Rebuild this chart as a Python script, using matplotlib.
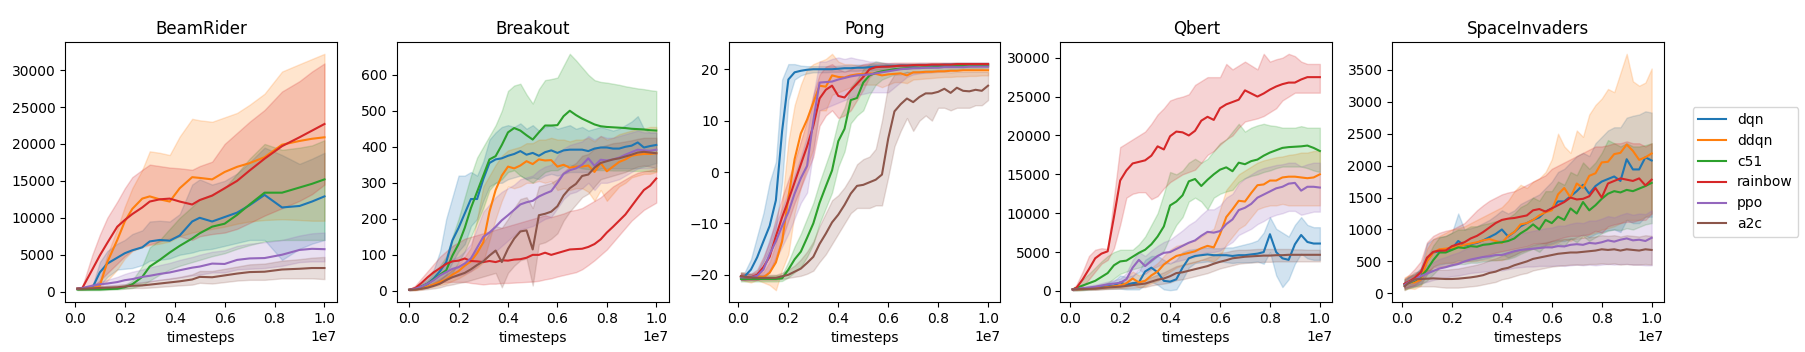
import numpy as np
import matplotlib
matplotlib.use("Agg")
import matplotlib.pyplot as plt

# ---------------- data ----------------
ALGOS = ["dqn", "ddqn", "c51", "rainbow", "ppo", "a2c"]
GAMES = ["BeamRider", "Breakout", "Pong", "Qbert", "SpaceInvaders"]

# x positions in units of 1e7 timesteps
BR_X = [0.01, 0.03, 0.07, 0.10, 0.13, 0.17, 0.20, 0.23, 0.27, 0.30, 0.34, 0.38,
        0.42, 0.47, 0.50, 0.55, 0.60, 0.65, 0.70, 0.76, 0.83, 0.90, 0.95, 1.00]
GRID_X = [0.01, 0.025, 0.05, 0.075, 0.1, 0.125, 0.15, 0.175, 0.2, 0.225, 0.25, 0.275,
          0.3, 0.325, 0.35, 0.375, 0.4, 0.425, 0.45, 0.475, 0.5, 0.525, 0.55, 0.575,
          0.6, 0.625, 0.65, 0.675, 0.7, 0.725, 0.75, 0.775, 0.8, 0.825, 0.85, 0.875,
          0.9, 0.925, 0.95, 0.975, 1.0]
BO_X = [0.0] + GRID_X[1:]

# ---- BeamRider (thousands) ----
BR_DQN = [0.4,0.45,0.5,2.6,3.8,4.6,5.2,5.6,6.0,6.8,7.0,6.9,7.6,9.5,10.0,9.5,10.1,10.7,11.7,13.1,11.4,11.6,12.2,12.9]
BR_DQN_HI = [0.5,0.6,0.7,4.0,5.5,6.5,7.0,7.8,8.3,9.5,9.6,9.5,10.5,14.5,15.2,14.5,15.0,16.0,17.5,19.5,18.5,17.3,18.0,18.8]
BR_DQN_LO = [0.3,0.3,0.4,0.8,2.0,3.0,3.1,3.2,3.6,4.2,4.3,4.5,5.0,5.3,5.6,5.8,6.2,6.6,7.0,7.0,4.3,5.8,6.5,7.0]
BR_DDQN = [0.4,0.45,0.5,0.8,4.0,7.0,9.5,11.2,12.6,12.9,12.5,12.2,14.0,15.5,15.4,15.2,16.2,16.9,17.4,18.2,19.9,20.4,20.7,20.9]
BR_DDQN_HI = [0.5,0.5,0.6,1.5,5.0,8.5,11.5,14.0,16.5,19.0,18.8,18.5,21.0,23.4,23.2,23.0,23.6,24.2,25.3,26.8,29.8,30.8,31.5,32.2]
BR_DDQN_LO = [0.3,0.3,0.4,0.5,1.5,3.0,4.5,5.5,6.0,6.3,6.5,6.8,7.5,8.0,8.2,8.5,8.8,9.2,9.5,9.7,9.8,9.7,9.6,9.6]
BR_C51 = [0.3,0.3,0.3,0.3,0.35,0.4,0.6,1.0,2.0,3.4,4.3,5.3,6.2,7.2,7.9,8.8,9.2,10.4,11.8,13.4,13.4,14.1,14.6,15.2]
BR_C51_HI = [0.4,0.4,0.4,0.4,0.5,0.6,0.9,1.5,3.5,6.0,7.0,8.5,10.0,11.5,12.5,13.2,14.0,16.0,18.0,20.0,19.2,19.5,19.8,20.5]
BR_C51_LO = [0.2,0.2,0.2,0.2,0.25,0.3,0.4,0.5,0.9,1.5,2.3,3.0,3.5,4.0,4.3,4.8,5.2,5.8,6.3,6.8,7.0,7.0,7.0,7.0]
BR_RAINBOW = [0.4,0.5,3.0,4.9,6.6,8.8,9.7,10.5,11.4,12.2,12.5,12.6,12.2,11.8,12.4,13.0,14.0,15.0,16.4,18.0,19.7,20.9,21.8,22.7]
BR_RAINBOW_HI = [0.5,0.7,5.0,7.7,10.0,12.2,14.0,15.5,16.5,17.2,17.0,16.8,16.7,16.5,17.0,17.6,20.0,21.5,23.0,24.6,27.1,28.5,29.8,30.9]
BR_RAINBOW_LO = [0.3,0.3,0.5,1.5,2.5,3.8,4.8,5.6,6.2,6.4,6.8,7.2,7.5,7.0,7.5,7.8,8.0,8.5,9.3,10.3,11.3,12.3,13.2,14.5]
BR_PPO = [0.4,0.5,0.8,1.0,1.1,1.3,1.55,1.7,2.0,2.15,2.4,2.6,2.9,3.25,3.4,3.8,3.75,4.3,4.5,4.55,5.0,5.65,5.8,5.75]
BR_PPO_HI = [0.5,0.6,1.0,1.3,1.6,2.0,2.4,2.7,3.0,3.3,3.6,3.9,4.3,4.7,5.0,5.4,5.6,6.2,6.5,6.7,7.0,7.6,7.9,8.0]
BR_PPO_LO = [0.3,0.4,0.6,0.7,0.8,0.9,1.0,1.1,1.3,1.4,1.6,1.7,1.9,2.2,2.3,2.6,2.6,3.0,3.1,3.2,3.5,4.0,4.1,4.1]
BR_A2C = [0.4,0.4,0.45,0.5,0.55,0.6,0.7,0.8,0.85,0.95,1.1,1.25,1.4,1.65,2.0,1.95,2.2,2.45,2.65,2.7,3.0,3.1,3.2,3.2]
BR_A2C_HI = [0.5,0.5,0.6,0.7,0.8,0.9,1.0,1.15,1.25,1.4,1.6,1.8,2.0,2.35,2.8,2.8,3.1,3.4,3.7,3.8,4.2,4.4,4.6,4.7]
BR_A2C_LO = [0.3,0.3,0.3,0.35,0.35,0.4,0.45,0.5,0.5,0.55,0.65,0.75,0.85,0.95,1.2,1.1,1.3,1.5,1.6,1.6,1.8,1.8,1.8,1.7]

# ---- Breakout ----
BO_DQN = [3,5,12,20,35,55,80,140,175,215,255,255,310,355,365,368,375,380,388,378,383,375,385,390,383,390,392,392,392,388,395,398,398,395,395,400,403,412,398,402,405]
BO_DQN_HI = [4,8,20,35,60,110,200,260,320,320,330,320,360,420,440,455,460,455,465,450,460,445,455,460,450,455,460,450,455,445,450,455,450,445,450,460,470,485,450,440,440]
BO_DQN_LO = [2,3,6,10,18,30,45,80,110,130,180,200,250,290,300,300,310,315,320,310,315,310,320,325,320,325,330,330,330,330,335,340,340,340,340,340,340,340,345,350,355]
BO_DDQN = [3,4,7,12,18,25,32,45,55,70,82,105,135,220,280,320,345,340,348,360,352,365,362,363,345,350,342,345,345,348,330,355,332,345,358,365,375,378,380,380,382]
BO_DDQN_HI = [4,6,10,16,25,35,45,60,75,95,120,200,290,320,350,375,390,395,400,410,410,420,420,425,420,420,415,420,420,425,415,430,420,425,435,440,445,450,450,455,455]
BO_DDQN_LO = [2,2,4,8,12,16,20,28,35,45,55,65,80,140,200,250,290,285,290,300,300,305,300,305,280,285,280,285,285,275,250,280,250,270,290,300,315,320,325,325,330]
BO_C51 = [3,6,12,20,32,45,57,98,130,175,230,275,320,365,374,405,440,452,445,432,420,440,459,459,460,485,500,488,478,470,462,457,455,454,453,452,450,449,448,446,445]
BO_C51_HI = [4,8,18,30,50,70,95,150,200,260,320,370,400,430,460,500,555,570,575,545,520,560,585,588,592,625,658,640,620,600,585,580,578,575,572,568,565,562,560,557,555]
BO_C51_LO = [2,4,8,12,18,25,30,50,80,110,150,190,230,280,300,310,330,335,320,310,300,315,330,335,335,345,350,345,340,338,336,335,335,334,334,334,333,333,333,332,332]
BO_RAINBOW = [3,8,22,38,52,63,75,82,84,90,83,82,80,83,80,85,84,87,88,92,100,100,106,100,105,110,115,116,117,122,130,143,162,178,195,212,235,258,280,292,312]
BO_RAINBOW_HI = [4,15,35,55,75,95,110,125,135,145,150,155,160,165,170,175,180,185,190,195,200,205,210,205,210,215,222,225,230,240,250,260,275,290,300,310,320,328,332,335,340]
BO_RAINBOW_LO = [2,3,8,15,20,22,25,25,25,25,22,20,18,20,20,22,22,23,24,25,26,28,32,35,40,44,48,52,60,72,85,100,115,135,155,175,195,210,225,235,245]
BO_PPO = [3,6,12,20,30,43,52,61,66,76,90,120,150,162,178,196,210,225,240,246,250,262,270,277,300,325,335,340,350,368,347,364,362,365,370,378,385,392,390,389,392]
BO_PPO_HI = [4,8,16,28,42,60,75,88,95,110,130,175,220,240,260,275,285,295,310,315,320,335,345,350,375,395,405,410,415,430,420,430,425,425,430,435,440,445,440,440,440]
BO_PPO_LO = [2,4,8,12,18,26,32,38,42,48,55,70,90,100,110,125,140,155,170,175,180,190,200,205,230,255,270,275,285,300,280,300,300,305,310,320,330,340,340,340,345]
BO_A2C = [3,4,6,9,14,20,30,38,44,50,60,72,82,98,112,80,117,145,165,168,115,210,214,220,235,265,285,297,319,323,342,355,360,365,368,373,378,384,386,384,382]
BO_A2C_HI = [4,6,9,14,22,32,45,58,68,78,95,115,135,160,180,175,200,230,255,260,230,290,295,300,310,330,345,355,375,380,395,400,405,410,412,415,418,422,425,425,425]
BO_A2C_LO = [2,2,3,5,7,10,15,18,22,25,30,35,40,45,50,10,50,70,85,90,15,130,135,145,160,195,220,240,260,270,290,310,315,320,325,330,338,345,348,345,340]

# ---- Pong ----
PO_DQN = [-20.3,-20.3,-19.0,-16.6,-13.5,-10.5,-5.5,8.0,18.0,19.4,19.7,19.9,20.0,20.0,20.0,20.0,20.1,20.2,20.2,20.3,20.3,20.4,20.5,20.5,20.6,20.6,20.7,20.7,20.7,20.8,20.8,20.8,20.8,20.9,20.9,20.9,20.9,21.0,21.0,21.0,21.0]
PO_DQN_HI = [-19.5,-19.5,-17.0,-12.5,-8.0,-2.0,2.0,18.0,21.0,21.0,20.7,20.6,20.6,20.6,20.6,20.6,20.7,20.8,20.8,20.9,20.9,21.0,21.0,21.0,21.1,21.1,21.1,21.1,21.1,21.2,21.2,21.2,21.2,21.2,21.2,21.3,21.3,21.3,21.3,21.3,21.3]
PO_DQN_LO = [-21.0,-21.0,-20.5,-19.5,-17.5,-15.0,-11.0,-2.0,14.0,18.0,18.8,19.2,19.4,19.4,19.4,19.5,19.5,19.6,19.7,19.7,19.8,19.8,19.9,20.0,20.0,20.1,20.2,20.2,20.3,20.3,20.4,20.4,20.4,20.5,20.5,20.5,20.6,20.6,20.6,20.7,20.7]
PO_DDQN = [-20.3,-20.4,-20.6,-20.3,-20.5,-19.6,-17.6,-13.5,-5.0,2.5,7.5,10.2,13.5,16.8,16.6,18.8,18.5,18.4,18.8,19.0,19.1,19.2,19.1,18.8,19.0,19.1,19.2,18.8,19.4,19.4,19.5,19.5,19.6,19.6,19.7,19.7,19.8,19.8,19.8,19.8,19.8]
PO_DDQN_HI = [-19.5,-19.6,-19.8,-19.5,-19.5,-17.5,-14.0,-6.0,6.0,13.0,17.0,20.0,21.0,21.5,22.0,23.0,21.5,21.0,21.0,20.8,20.8,20.8,20.7,20.5,20.6,20.6,20.6,20.4,20.5,20.5,20.5,20.5,20.5,20.5,20.5,20.5,20.4,20.4,20.4,20.4,20.4]
PO_DDQN_LO = [-21.0,-21.2,-21.5,-21.0,-21.5,-22.0,-23.0,-19.0,-16.0,-8.0,-3.0,1.0,4.5,12.0,12.0,15.0,15.5,16.0,16.5,17.0,17.0,17.0,17.0,16.5,17.0,17.5,17.5,17.3,18.0,18.1,18.2,18.3,18.4,18.5,18.5,18.6,18.6,18.7,18.7,18.8,18.8]
PO_C51 = [-20.8,-20.8,-20.8,-20.8,-20.8,-20.8,-20.8,-20.7,-19.0,-17.0,-15.5,-12.8,-10.0,-6.0,-2.8,0.3,6.0,8.4,14.0,14.4,17.4,18.8,19.3,19.6,19.8,20.0,20.1,20.2,20.3,20.3,20.4,20.4,20.5,20.5,20.5,20.6,20.6,20.6,20.7,20.7,20.7]
PO_C51_HI = [-20.2,-20.2,-20.2,-20.2,-20.2,-20.2,-20.1,-20.0,-17.5,-14.5,-12.0,-9.0,-6.0,-2.0,1.5,5.0,10.0,12.5,16.5,18.0,20.0,21.0,21.5,21.3,21.0,21.0,21.0,21.0,21.0,21.0,21.0,21.0,21.0,21.0,21.0,21.0,21.0,21.0,21.0,21.0,21.0]
PO_C51_LO = [-21.3,-21.3,-21.3,-21.3,-21.3,-21.3,-21.3,-21.2,-20.5,-19.5,-18.5,-16.5,-14.0,-10.0,-7.0,-4.0,1.0,4.0,9.5,11.0,12.0,15.0,17.0,18.0,18.5,19.0,19.2,19.4,19.5,19.6,19.7,19.8,19.9,19.9,20.0,20.0,20.1,20.1,20.2,20.2,20.3]
PO_RAINBOW = [-20.3,-20.5,-20.5,-20.0,-18.5,-16.5,-12.5,-8.8,-5.5,-2.0,1.5,5.0,9.0,14.3,16.0,16.8,14.8,14.5,15.9,17.2,18.5,20.0,20.4,20.5,20.5,20.6,20.7,20.7,20.8,20.8,20.8,20.9,20.9,20.9,20.9,21.0,21.0,21.0,21.0,21.0,21.0]
PO_RAINBOW_HI = [-19.7,-19.8,-19.8,-19.0,-16.5,-13.5,-9.0,-5.0,-1.5,2.0,6.0,10.0,15.0,19.0,20.5,21.0,20.0,19.5,20.0,20.5,21.0,21.2,21.2,21.2,21.2,21.3,21.3,21.3,21.3,21.3,21.3,21.3,21.3,21.3,21.3,21.3,21.3,21.3,21.3,21.3,21.3]
PO_RAINBOW_LO = [-21.0,-21.0,-21.0,-21.0,-20.5,-19.5,-16.5,-13.0,-9.5,-6.0,-3.0,0.0,3.0,9.0,11.0,12.0,10.5,11.0,12.0,14.0,16.0,18.5,19.5,19.8,19.9,20.0,20.1,20.1,20.2,20.3,20.3,20.4,20.4,20.5,20.5,20.5,20.6,20.6,20.6,20.7,20.7]
PO_PPO = [-20.5,-20.5,-20.5,-20.2,-19.0,-16.0,-13.5,-10.5,-7.8,-4.2,-1.2,1.2,10.0,17.4,17.5,17.6,18.0,18.3,18.6,18.8,18.9,19.0,19.2,19.4,19.6,19.8,20.0,20.1,20.2,20.2,20.3,20.3,20.3,20.4,20.4,20.4,20.4,20.5,20.5,20.5,20.5]
PO_PPO_HI = [-19.8,-19.8,-19.8,-19.5,-17.0,-13.0,-10.0,-7.0,-4.0,-0.5,3.0,7.0,15.0,21.5,21.5,22.0,22.3,22.0,22.3,22.0,21.8,21.5,21.5,21.3,21.2,21.1,21.1,21.0,21.0,21.0,21.0,21.0,21.0,21.0,21.0,21.0,21.0,21.0,21.0,21.0,21.0]
PO_PPO_LO = [-21.0,-21.0,-21.0,-21.0,-20.5,-19.0,-17.0,-14.5,-12.0,-9.0,-6.0,-4.0,4.0,12.0,12.5,13.0,13.5,14.0,14.5,15.0,15.2,15.5,15.5,15.5,15.5,16.5,17.5,18.5,19.0,19.2,19.4,19.5,19.6,19.7,19.8,19.8,19.9,19.9,20.0,20.0,20.0]
PO_A2C = [-20.3,-20.4,-20.5,-20.6,-20.6,-20.6,-20.6,-20.3,-20.0,-19.4,-18.8,-17.7,-16.5,-14.0,-12.0,-9.8,-8.3,-6.4,-4.2,-2.7,-2.5,-2.0,-1.5,-0.5,6.5,11.8,13.2,14.3,13.6,14.6,15.3,15.3,15.6,16.2,15.4,16.4,15.8,15.7,16.0,15.8,16.8]
PO_A2C_HI = [-19.7,-19.8,-19.9,-20.0,-20.0,-20.0,-20.0,-19.6,-19.0,-18.2,-17.0,-15.5,-13.5,-10.5,-8.0,-5.5,-4.5,-3.0,-1.0,1.5,2.5,3.0,4.5,10.0,17.0,19.0,19.0,19.5,19.3,19.5,19.3,19.4,19.5,19.5,19.4,19.5,19.5,19.5,19.5,19.5,19.5]
PO_A2C_LO = [-20.9,-21.0,-21.0,-21.0,-21.0,-21.0,-21.0,-20.8,-20.6,-20.4,-20.2,-19.8,-19.2,-17.5,-16.0,-14.0,-12.0,-10.0,-8.0,-7.0,-7.0,-7.0,-6.5,-6.5,-1.0,5.0,8.0,10.5,8.0,10.0,11.0,10.0,12.5,12.5,12.0,12.5,12.5,12.5,13.0,13.0,14.0]

# ---- Qbert (thousands) ----
QB_DQN = [0.2,0.2,0.3,0.35,0.4,0.5,0.6,0.7,1.1,0.8,1.0,1.1,2.5,3.0,2.4,1.3,1.2,1.5,3.0,4.2,4.5,4.6,4.7,4.6,4.6,4.6,4.5,4.6,4.6,4.7,4.8,5.0,7.3,5.0,4.2,4.0,6.0,7.2,6.3,6.1,6.1]
QB_DQN_HI = [0.3,0.3,0.4,0.5,0.6,0.8,1.0,1.3,2.0,1.8,2.0,2.5,4.0,4.5,4.5,4.0,3.5,4.0,5.0,5.3,5.4,5.5,5.6,5.5,5.5,5.6,5.6,5.8,6.0,6.2,6.5,7.5,9.5,8.0,7.5,7.0,8.5,9.5,8.5,8.2,8.2]
QB_DQN_LO = [0.1,0.1,0.15,0.2,0.2,0.25,0.3,0.3,0.3,0.2,0.2,0.2,0.8,1.2,0.8,0.2,0.1,0.2,1.5,3.0,3.6,3.7,3.8,3.7,3.8,3.7,3.6,3.7,3.7,3.7,3.8,3.5,5.0,2.0,0.5,1.5,3.5,4.8,4.2,4.0,4.0]
QB_DDQN = [0.2,0.2,0.25,0.3,0.35,0.4,0.5,0.6,0.7,1.0,1.6,1.1,1.3,2.0,2.5,3.4,4.0,4.5,4.7,4.9,5.1,5.5,5.8,5.6,7.3,9.5,10.5,11.6,11.5,12.6,13.6,13.7,14.2,14.2,14.6,14.7,14.7,14.6,14.5,14.6,15.0]
QB_DDQN_HI = [0.3,0.3,0.35,0.4,0.5,0.6,0.7,0.8,1.0,1.8,2.5,2.0,2.3,3.0,3.6,4.5,5.3,5.8,6.0,6.3,6.5,7.0,7.5,8.0,10.5,13.0,14.0,15.0,15.5,16.0,16.5,16.8,17.0,17.2,17.3,17.5,17.6,17.8,17.8,18.0,18.0]
QB_DDQN_LO = [0.1,0.1,0.15,0.2,0.2,0.25,0.3,0.35,0.4,0.5,0.8,0.5,0.6,1.0,1.3,2.0,2.5,3.0,3.3,3.5,3.7,4.0,4.0,3.8,4.5,6.0,7.0,8.0,8.5,9.5,10.5,10.8,11.0,11.0,11.2,11.0,11.0,11.0,11.0,11.0,11.0]
QB_C51 = [0.2,0.4,0.7,1.0,1.3,1.8,2.3,3.3,3.8,3.9,4.4,4.9,5.3,6.0,7.0,8.3,11.0,11.5,12.3,14.1,14.4,13.5,14.3,15.0,15.6,15.9,15.4,16.5,16.3,16.7,16.9,17.4,17.8,18.1,18.4,18.5,18.55,18.6,18.7,18.4,18.0]
QB_C51_HI = [0.3,0.6,1.5,2.2,3.0,3.8,4.5,5.0,5.3,5.3,5.3,6.0,7.0,8.5,10.0,12.5,15.3,15.0,15.5,16.5,17.0,16.5,17.0,18.0,19.0,19.5,20.5,21.5,20.5,21.0,21.3,21.5,21.3,21.2,21.0,21.0,21.0,21.2,21.0,21.0,21.0]
QB_C51_LO = [0.1,0.1,0.1,0.2,0.3,0.6,1.0,1.6,2.2,2.5,2.8,3.0,3.3,3.8,4.5,5.2,7.0,8.5,9.5,11.5,12.0,11.5,10.5,12.0,12.5,12.8,13.0,14.0,14.5,14.8,15.0,15.3,15.5,15.8,16.0,16.0,16.0,16.0,15.8,15.5,15.3]
QB_RAINBOW = [0.2,0.4,1.5,2.8,4.2,4.8,5.1,9.5,14.2,15.5,16.4,16.6,16.8,17.4,18.6,18.2,19.9,20.5,20.4,20.0,20.6,21.9,22.4,22.0,23.5,24.0,24.3,24.6,25.8,25.4,25.0,25.4,25.9,26.3,26.6,26.8,26.8,27.2,27.5,27.5,27.5]
QB_RAINBOW_HI = [0.3,0.8,2.5,4.5,5.3,5.5,5.4,12.0,18.5,19.0,19.5,20.0,20.5,21.5,22.7,23.5,24.5,24.8,25.0,25.3,26.5,27.0,27.5,27.5,27.5,29.2,28.5,29.0,29.5,29.0,28.5,30.5,29.5,29.8,30.0,30.5,30.2,29.5,29.2,29.2,29.2]
QB_RAINBOW_LO = [0.1,0.2,0.6,1.5,2.5,3.5,4.0,5.5,8.5,12.0,12.5,12.7,12.7,11.8,12.2,13.2,14.0,14.5,15.0,15.3,15.6,16.5,17.5,18.0,18.8,19.5,20.0,21.0,21.8,22.0,22.2,22.5,23.0,23.5,24.5,25.0,25.5,25.5,25.5,25.5,25.5]
QB_PPO = [0.2,0.25,0.35,0.45,0.55,0.7,0.85,0.95,1.05,1.5,3.0,4.0,3.2,3.9,4.5,4.9,5.0,5.4,5.8,6.2,6.5,7.1,7.6,7.5,7.7,8.6,9.2,10.4,10.7,11.2,12.0,12.4,12.8,13.2,13.4,13.8,13.9,12.9,13.4,13.4,13.3]
QB_PPO_HI = [0.3,0.4,0.5,0.7,0.8,1.0,1.2,1.4,1.6,2.3,4.0,5.0,4.5,5.2,5.8,6.3,6.6,7.2,7.8,8.5,9.0,9.8,10.5,10.5,11.0,12.0,12.5,13.8,14.5,15.0,15.5,15.8,16.0,16.2,16.3,16.5,16.5,16.0,16.3,16.5,16.5]
QB_PPO_LO = [0.1,0.15,0.2,0.25,0.3,0.4,0.5,0.6,0.7,0.9,1.8,2.8,2.2,2.8,3.2,3.5,3.6,3.8,4.0,4.2,4.4,4.8,5.0,5.0,5.2,5.8,6.3,7.2,7.6,8.0,8.6,9.0,9.5,9.8,10.0,10.3,10.3,9.8,10.0,10.2,10.2]
QB_A2C = [0.2,0.22,0.25,0.27,0.3,0.38,0.45,0.5,0.55,0.65,0.75,0.85,0.95,1.2,1.45,1.6,1.9,2.3,2.4,2.6,2.8,3.0,3.2,3.5,3.75,3.95,4.2,4.3,4.4,4.45,4.5,4.55,4.55,4.6,4.6,4.65,4.65,4.65,4.65,4.65,4.65]
QB_A2C_HI = [0.3,0.3,0.35,0.4,0.45,0.55,0.65,0.75,0.85,1.0,1.15,1.3,1.45,1.8,2.1,2.4,2.8,3.2,3.4,3.6,3.8,4.0,4.3,4.6,4.9,5.0,5.2,5.3,5.3,5.35,5.4,5.4,5.4,5.4,5.4,5.4,5.35,5.35,5.3,5.3,5.3]
QB_A2C_LO = [0.1,0.1,0.12,0.14,0.15,0.2,0.25,0.28,0.3,0.35,0.4,0.45,0.5,0.7,0.85,0.95,1.1,1.4,1.5,1.7,1.9,2.1,2.3,2.6,2.9,3.1,3.3,3.5,3.6,3.65,3.7,3.75,3.75,3.8,3.8,3.8,3.8,3.8,3.8,3.8,3.8]

# ---- SpaceInvaders ----
SI_DQN = [150,170,190,250,520,640,660,680,700,820,750,770,790,830,880,930,1000,890,960,1050,1100,1150,1190,1280,1330,1440,1440,1520,1600,1700,1560,1680,1750,1790,1830,1760,2100,1940,1940,2130,2080]
SI_DQN_HI = [220,250,280,400,780,850,880,900,950,1250,1000,1020,1050,1100,1150,1220,1300,1250,1300,1400,1450,1500,1550,1650,1750,1900,1950,2050,2150,2200,2150,2350,2450,2550,2600,2600,2750,2780,2800,2850,2830]
SI_DQN_LO = [80,100,120,150,300,420,450,470,480,520,500,510,520,540,560,590,620,560,600,650,680,700,720,760,780,820,820,850,880,920,880,930,960,990,1000,960,1150,1100,1100,1200,1200]
SI_DDQN = [140,175,170,215,500,640,690,700,715,730,760,780,800,830,850,820,790,900,960,1080,1100,1150,1220,1270,1300,1550,1650,1500,1720,1650,1840,1880,2050,2060,2180,2200,2330,2230,2090,2130,2190]
SI_DDQN_HI = [250,280,300,350,700,850,900,950,1000,1020,1050,1100,1150,1200,1250,1300,1350,1450,1600,1700,1650,1750,1800,1900,2100,2500,2300,2200,2550,2450,2800,2950,3050,3200,3150,3450,3750,3320,3250,3300,3520]
SI_DDQN_LO = [60,80,70,120,300,420,470,480,480,490,500,500,510,520,530,520,520,560,600,650,680,700,720,740,760,800,850,820,880,870,920,950,1000,1020,1050,1100,1150,1150,1150,1200,1250]
SI_C51 = [130,160,200,260,370,520,640,640,680,720,710,740,730,760,770,790,800,820,860,940,1000,1080,1000,1150,1100,1200,1150,1330,1250,1430,1300,1380,1480,1560,1600,1580,1620,1600,1640,1680,1730]
SI_C51_HI = [220,260,300,380,550,750,880,900,950,1000,1000,1050,1050,1080,1100,1130,1150,1180,1250,1350,1400,1500,1450,1600,1600,1750,1700,1900,1850,2050,1950,2050,2200,2400,2350,2300,2350,2300,2300,2320,2350]
SI_C51_LO = [60,80,100,140,200,300,400,420,430,460,460,480,480,500,510,520,530,540,570,620,660,700,650,750,720,780,740,860,800,900,820,880,940,980,1000,990,1020,1000,1040,1080,1100]
SI_RAINBOW = [150,180,240,330,560,650,670,670,740,770,800,860,900,960,1030,1100,1150,1170,1180,1200,1220,1300,1320,1280,1330,1380,1430,1500,1470,1480,1520,1650,1500,1720,1760,1800,1780,1760,1800,1690,1780]
SI_RAINBOW_HI = [230,280,380,500,800,900,950,980,1000,1050,1100,1200,1300,1380,1450,1500,1550,1580,1600,1650,1700,1750,1800,1850,1950,2000,2050,2100,2150,2200,2250,2300,2300,2320,2350,2350,2380,2350,2350,2300,2350]
SI_RAINBOW_LO = [80,100,130,200,350,400,420,430,450,480,500,530,550,580,610,640,660,680,700,720,740,780,790,780,820,850,880,900,900,910,930,980,950,1050,1080,1100,1120,1120,1150,1150,1250]
SI_PPO = [130,170,210,270,310,350,390,410,440,460,500,530,550,570,580,600,600,630,660,680,690,700,710,720,720,740,735,760,770,760,790,780,800,830,810,840,860,830,840,820,870]
SI_PPO_HI = [200,250,300,380,440,490,540,570,610,640,690,730,760,790,800,830,840,870,910,940,960,980,1000,1020,1030,1060,1060,1090,1110,1100,1140,1140,1170,1210,1190,1230,1260,1230,1250,1240,1300]
SI_PPO_LO = [80,100,120,160,180,210,230,250,270,280,300,320,330,340,350,360,360,380,400,410,420,420,430,430,430,440,430,440,450,440,450,440,450,460,450,460,460,450,450,440,440]
SI_A2C = [110,160,220,225,230,235,230,225,225,230,240,250,265,285,320,340,380,400,440,470,500,540,560,580,600,620,630,640,640,650,660,670,690,680,690,670,690,680,670,690,680]
SI_A2C_HI = [180,250,330,350,360,370,370,370,380,390,410,430,450,480,520,550,590,620,660,690,720,760,780,800,820,840,850,860,860,870,880,890,910,900,910,890,910,900,890,910,900]
SI_A2C_LO = [50,80,110,110,110,110,100,90,90,90,100,110,120,140,160,180,220,240,270,300,320,360,380,400,420,430,440,450,450,450,460,460,470,460,470,450,460,450,450,460,450]

# ---------------- assemble ----------------
PANELS = [
    ("BeamRider", BR_X, 1000.0, [(BR_DQN, BR_DQN_LO, BR_DQN_HI), (BR_DDQN, BR_DDQN_LO, BR_DDQN_HI),
                                 (BR_C51, BR_C51_LO, BR_C51_HI), (BR_RAINBOW, BR_RAINBOW_LO, BR_RAINBOW_HI),
                                 (BR_PPO, BR_PPO_LO, BR_PPO_HI), (BR_A2C, BR_A2C_LO, BR_A2C_HI)]),
    ("Breakout", BO_X, 1.0, [(BO_DQN, BO_DQN_LO, BO_DQN_HI), (BO_DDQN, BO_DDQN_LO, BO_DDQN_HI),
                             (BO_C51, BO_C51_LO, BO_C51_HI), (BO_RAINBOW, BO_RAINBOW_LO, BO_RAINBOW_HI),
                             (BO_PPO, BO_PPO_LO, BO_PPO_HI), (BO_A2C, BO_A2C_LO, BO_A2C_HI)]),
    ("Pong", GRID_X, 1.0, [(PO_DQN, PO_DQN_LO, PO_DQN_HI), (PO_DDQN, PO_DDQN_LO, PO_DDQN_HI),
                           (PO_C51, PO_C51_LO, PO_C51_HI), (PO_RAINBOW, PO_RAINBOW_LO, PO_RAINBOW_HI),
                           (PO_PPO, PO_PPO_LO, PO_PPO_HI), (PO_A2C, PO_A2C_LO, PO_A2C_HI)]),
    ("Qbert", GRID_X, 1000.0, [(QB_DQN, QB_DQN_LO, QB_DQN_HI), (QB_DDQN, QB_DDQN_LO, QB_DDQN_HI),
                               (QB_C51, QB_C51_LO, QB_C51_HI), (QB_RAINBOW, QB_RAINBOW_LO, QB_RAINBOW_HI),
                               (QB_PPO, QB_PPO_LO, QB_PPO_HI), (QB_A2C, QB_A2C_LO, QB_A2C_HI)]),
    ("SpaceInvaders", GRID_X, 1.0, [(SI_DQN, SI_DQN_LO, SI_DQN_HI), (SI_DDQN, SI_DDQN_LO, SI_DDQN_HI),
                                    (SI_C51, SI_C51_LO, SI_C51_HI), (SI_RAINBOW, SI_RAINBOW_LO, SI_RAINBOW_HI),
                                    (SI_PPO, SI_PPO_LO, SI_PPO_HI), (SI_A2C, SI_A2C_LO, SI_A2C_HI)]),
]

COLORS = ["#1f77b4", "#ff7f0e", "#2ca02c", "#d62728", "#9467bd", "#8c564b"]

fig, axes = plt.subplots(1, 5, figsize=(18.05, 3.52), dpi=100)
fig.subplots_adjust(left=65 / 1805, right=1664 / 1805, bottom=1 - 302 / 352,
                    top=1 - 42 / 352, wspace=60 / 272)

for ax, (title, xs, scale, series) in zip(axes, PANELS):
    x = np.array(xs) * 1e7
    for (mean, lo, hi), color, name in zip(series, COLORS, ALGOS):
        ax.plot(x, np.array(mean) * scale, color=color, lw=1.5, label=name)
        ax.fill_between(x, np.array(lo) * scale, np.array(hi) * scale,
                        color=color, alpha=0.2, lw=1)
    ax.set_title(title)
    ax.set_xlabel("timesteps")

handles, labels = axes[-1].get_legend_handles_labels()
axes[-1].legend(handles, labels, loc="center left", bbox_to_anchor=(1.08, 0.5))

fig.savefig("out.png", dpi=100)
